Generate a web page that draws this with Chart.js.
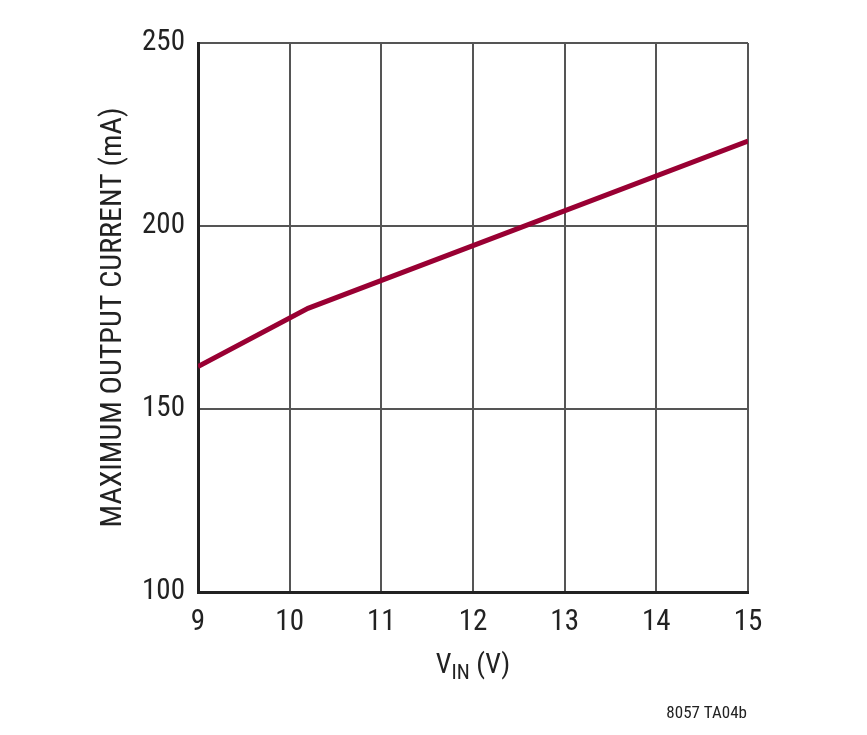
<!DOCTYPE html>
<html>
<head>
<meta charset="utf-8">
<script src="https://cdn.jsdelivr.net/npm/chart.js@4/dist/chart.umd.min.js"></script>
<style>
  html, body { margin: 0; padding: 0; background: #fff; }
  #wrap { width: 867px; height: 735px; }
</style>
</head>
<body>
<div id="wrap"><canvas id="chart" width="867" height="735"></canvas></div>
<script>
// values
var vin = [9, 10.2, 15];
var currentMA = [161.6, 177.5, 223.2];
var xTicks = [9, 10, 11, 12, 13, 14, 15];
var yTicks = [100, 150, 200, 250];

var FONT = "'Liberation Sans Narrow', 'Roboto Condensed', 'Liberation Sans', sans-serif";

var points = [];
for (var i = 0; i < vin.length; i++) {
	points.push({ x: vin[i], y: currentMA[i] });
}

// axis titles (x one has a subscript) and the figure code
var labelsPlugin = {
	id: 'extraLabels',
	afterDraw: function(chart) {
		var c = chart.ctx;
		var area = chart.chartArea;
		c.save();
		c.fillStyle = '#222';
		c.textBaseline = 'alphabetic';
		var mid = (area.left + area.right) / 2;
		var base = 673;
		c.font = '28px ' + FONT;
		var wV = c.measureText('V').width;
		var wRest = c.measureText(' (V)').width;
		c.font = '21px ' + FONT;
		var wSub = c.measureText('IN').width;
		var x0 = mid - (wV + wSub + wRest) / 2;
		c.font = '28px ' + FONT;
		c.textAlign = 'left';
		c.fillText('V', x0, base);
		c.font = '21px ' + FONT;
		c.fillText('IN', x0 + wV, base + 6);
		c.font = '28px ' + FONT;
		c.fillText(' (V)', x0 + wV + wSub, base);

		c.translate(113, (area.top + area.bottom) / 2);
		c.rotate(-Math.PI / 2);
		c.textAlign = 'center';
		c.textBaseline = 'middle';
		c.font = '30px ' + FONT;
		c.fillText('MAXIMUM OUTPUT CURRENT (mA)', 0, 0);
		c.restore();

		c.save();
		c.fillStyle = '#222';
		c.font = '17px ' + FONT;
		c.textAlign = 'right';
		c.fillText('8057 TA04b', 747, 718);
		c.restore();
	}
};

new Chart(document.getElementById('chart'), {
	type: 'scatter',
	data: {
		datasets: [{
			data: points,
			showLine: true,
			borderColor: '#990033',
			borderWidth: 5,
			pointRadius: 0,
			fill: false
		}]
	},
	options: {
		responsive: false,
		animation: false,
		layout: { padding: { top: 43, right: 119, left: 0, bottom: 0 } },
		plugins: { legend: { display: false }, tooltip: { enabled: false } },
		scales: {
			x: {
				type: 'linear',
				min: 9, max: 15,
				afterFit: function(s) { s.height = 143; },
				afterBuildTicks: function(s) { s.ticks = xTicks.map(function(v) { return { value: v }; }); },
				grid: { color: '#555', lineWidth: 2, drawTicks: false },
				border: { color: '#222', width: 3 },
				ticks: { color: '#222', padding: 13, font: { family: FONT, size: 29 } }
			},
			y: {
				min: 100, max: 250,
				afterFit: function(s) { s.width = 198; },
				afterBuildTicks: function(s) { s.ticks = yTicks.map(function(v) { return { value: v }; }); },
				grid: { color: '#555', lineWidth: 2, drawTicks: false },
				border: { color: '#222', width: 3 },
				ticks: { color: '#222', padding: 13, font: { family: FONT, size: 29 } }
			}
		}
	},
	plugins: [labelsPlugin]
});
</script>
</body>
</html>
